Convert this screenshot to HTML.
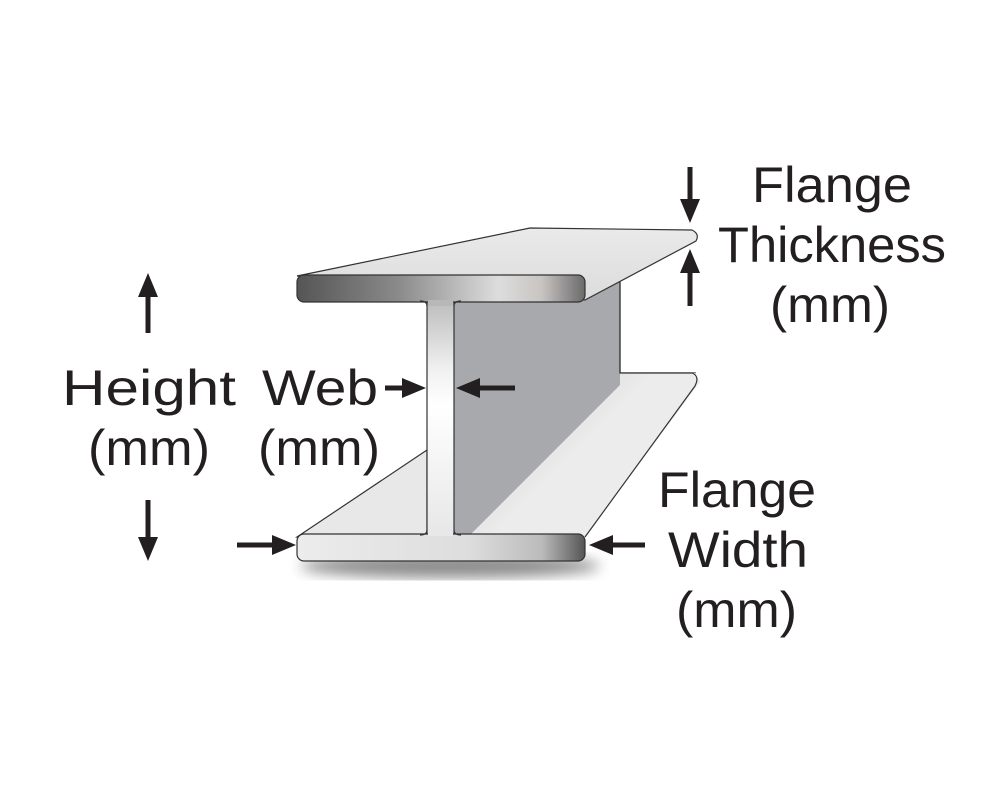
<!DOCTYPE html>
<html><head><meta charset="utf-8"><style>
html,body{margin:0;padding:0;background:#fff}
svg{display:block}
text{font-family:"Liberation Sans",sans-serif;font-size:50px;fill:#231f20}
</style></head><body>
<svg width="1008" height="792" viewBox="0 0 1008 792" xmlns="http://www.w3.org/2000/svg">
<defs>
<linearGradient id="topF" x1="0" x2="1" y1="0" y2="0">
<stop offset="0" stop-color="#555"/><stop offset="0.35" stop-color="#8a8a8a"/><stop offset="0.7" stop-color="#ddd"/><stop offset="0.85" stop-color="#c8c4c2"/><stop offset="1" stop-color="#6a6a6a"/></linearGradient>
<linearGradient id="botF" x1="0" x2="1" y1="0" y2="0">
<stop offset="0" stop-color="#ececec"/><stop offset="0.6" stop-color="#ddd"/><stop offset="0.85" stop-color="#bbb"/><stop offset="1" stop-color="#555"/></linearGradient>
<linearGradient id="webF" x1="0" x2="0" y1="0" y2="1">
<stop offset="0" stop-color="#b8b8b8"/><stop offset="0.3" stop-color="#f0f0f0"/><stop offset="0.45" stop-color="#fff"/><stop offset="1" stop-color="#e6e6e6"/></linearGradient>
<linearGradient id="lightS" gradientUnits="userSpaceOnUse" x1="520" y1="430" x2="560" y2="470">
<stop offset="0" stop-color="#a7a9ac"/><stop offset="0.5" stop-color="#e4e4e4"/><stop offset="1" stop-color="#ececec"/></linearGradient>
<linearGradient id="topS" x1="0" x2="0" y1="0" y2="1">
<stop offset="0" stop-color="#eaeaea"/><stop offset="1" stop-color="#dcdcdc"/></linearGradient>
<filter id="blur"><feGaussianBlur stdDeviation="7"/></filter>
</defs>
<ellipse cx="450" cy="566" rx="150" ry="12" fill="#000" opacity="0.45" filter="url(#blur)"/>
<!-- gray back web -->
<polygon points="453,301 620,270 620,373 695,373 585,535 453,535" fill="#a7a9ac" stroke="#333" stroke-width="1.2"/>
<!-- bottom flange top surface right -->
<polygon points="470,535 620,385 620,373 695,373 700,382 585,537" fill="url(#lightS)"/>
<path d="M620,373 L692,373 Q700,376 695,386 L585,537" fill="none" stroke="#333" stroke-width="1.2"/>
<!-- bottom flange top surface left -->
<polygon points="297,537 427,450 427,535" fill="#e8e8e8" stroke="#333" stroke-width="1.2"/>
<!-- top flange top surface -->
<path d="M297,276 L530,228 L692,230 Q700,234 696,241 L585,300 Z" fill="url(#topS)" stroke="#333" stroke-width="1.2"/>
<path d="M620,282 L620,373" stroke="#333" stroke-width="1.2"/>
<!-- web front -->
<rect x="427" y="295" width="27" height="246" fill="url(#webF)" stroke="#333" stroke-width="1.2"/>
<rect x="297" y="275" width="288" height="27" rx="7" fill="url(#topF)" stroke="#333" stroke-width="1.2"/>
<rect x="297" y="534" width="288" height="27" rx="7" fill="url(#botF)" stroke="#333" stroke-width="1.2"/>
<rect x="428" y="300" width="25" height="6" fill="#b8b8b8"/>
<rect x="428" y="530" width="25" height="6" fill="#e8e8e8"/>
<path d="M427,306 Q427,301 420,301 M454,306 Q454,301 461,301 M427,530 Q427,535 420,535 M454,530 Q454,535 461,535" fill="none" stroke="#333" stroke-width="1.2"/>
<!-- arrows -->
<g fill="#231f20" stroke="#231f20">
<line x1="148" y1="292" x2="148" y2="333" stroke-width="5"/><polygon points="148,273 138,297 158,297" stroke="none"/>
<line x1="148" y1="500" x2="148" y2="540" stroke-width="5"/><polygon points="148,561 138,537 158,537" stroke="none"/>
<line x1="690" y1="167" x2="690" y2="205" stroke-width="5"/><polygon points="690,223 680,199 700,199" stroke="none"/>
<line x1="690" y1="268" x2="690" y2="306" stroke-width="5"/><polygon points="690,249 680,273 700,273" stroke="none"/>
<line x1="385" y1="388" x2="408" y2="388" stroke-width="5"/><polygon points="426,388 402,378 402,398" stroke="none"/>
<line x1="474" y1="388" x2="515" y2="388" stroke-width="5"/><polygon points="456,388 480,378 480,398" stroke="none"/>
<line x1="237" y1="545" x2="278" y2="545" stroke-width="5"/><polygon points="296,545 272,535 272,555" stroke="none"/>
<line x1="607" y1="545" x2="645" y2="545" stroke-width="5"/><polygon points="589,545 613,535 613,555" stroke="none"/>
</g>
<text x="752" y="202" textLength="160" lengthAdjust="spacingAndGlyphs">Flange</text>
<text x="718" y="262" textLength="228" lengthAdjust="spacingAndGlyphs">Thickness</text>
<text x="770" y="322" textLength="120" lengthAdjust="spacingAndGlyphs">(mm)</text>
<text x="62" y="405" textLength="174" lengthAdjust="spacingAndGlyphs">Height</text>
<text x="88" y="465" textLength="122" lengthAdjust="spacingAndGlyphs">(mm)</text>
<text x="262" y="405" textLength="116" lengthAdjust="spacingAndGlyphs">Web</text>
<text x="258" y="465" textLength="122" lengthAdjust="spacingAndGlyphs">(mm)</text>
<text x="658" y="507" textLength="158" lengthAdjust="spacingAndGlyphs">Flange</text>
<text x="668" y="567" textLength="140" lengthAdjust="spacingAndGlyphs">Width</text>
<text x="676" y="627" textLength="121" lengthAdjust="spacingAndGlyphs">(mm)</text>
</svg>
</body></html>
